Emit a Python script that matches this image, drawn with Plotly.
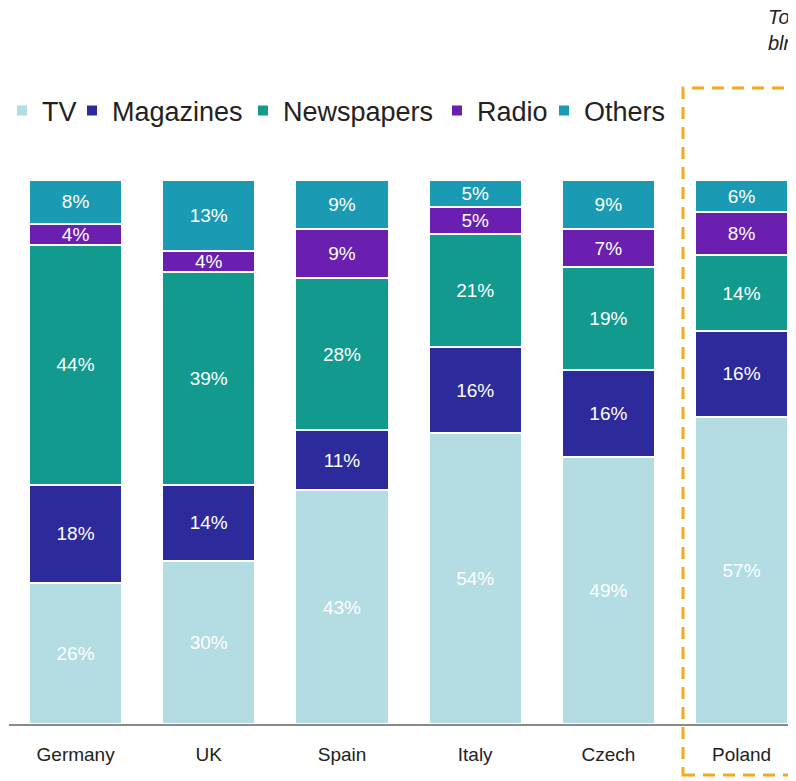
import plotly.graph_objects as go

countries = ["Germany", "UK", "Spain", "Italy", "Czech", "Poland"]
tv = [26, 30, 43, 54, 49, 57]
magazines = [18, 14, 11, 16, 16, 16]
newspapers = [44, 39, 28, 21, 19, 14]
radio = [4, 4, 9, 5, 7, 8]
others = [8, 13, 9, 5, 9, 6]

series = [
    ("TV", tv, "#b3dde3"),
    ("Magazines", magazines, "#2d2a9b"),
    ("Newspapers", newspapers, "#139a8f"),
    ("Radio", radio, "#6a1fb0"),
    ("Others", others, "#1a9bb3"),
]
legend_text_x = [42, 112, 283, 477, 584]  # screen px where each legend label starts

OFF = 8  # page body margin
W, H = 796 - OFF, 781 - OFF
L, R, T, B = 9 - OFF, 0, 180 - OFF, 781 - 724
pw = W - L - R
ph = H - T - B
band = 133.2

def px_x(p):
    return (p - OFF - L) / pw

def px_y(p):
    return (H - B - (p - OFF)) / ph

fig = go.Figure()
legends = {}
for i, (name, vals, col) in enumerate(series):
    lname = "legend" if i == 0 else f"legend{i + 1}"
    fig.add_trace(go.Bar(
        name=name, x=countries, y=vals, legend=lname,
        marker=dict(color=col, line=dict(color="white", width=2)),
        text=[f"{v}%" for v in vals], textposition="inside",
        insidetextanchor="middle", textangle=0,
        textfont=dict(color="white", size=19, family="Liberation Sans, Arial"),
    ))
    legends[lname] = dict(
        orientation="h", xref="paper", yref="paper",
        x=px_x(legend_text_x[i] - 40), xanchor="left",
        y=px_y(111), yanchor="middle",
        font=dict(size=27, color="#222"), itemclick=False,
        bgcolor="rgba(0,0,0,0)", borderwidth=0,
    )

fig.update_layout(
    width=W, height=H,
    margin=dict(l=L, r=R, t=T, b=B, autoexpand=False),
    barmode="stack", barnorm="percent", bargap=0.3,
    plot_bgcolor="white", paper_bgcolor="white",
    font=dict(family="Liberation Sans, Arial", color="#222"),
    uniformtext=dict(minsize=19, mode="show"),
    showlegend=True,
    xaxis=dict(range=[-0.5, -0.5 + pw / band], showgrid=False,
               showline=True, linecolor="#8a8a8a", linewidth=1.5,
               ticks="", tickfont=dict(size=19, color="#222"),
               ticklabelstandoff=12, zeroline=False, fixedrange=True),
    yaxis=dict(range=[0, 100], visible=False, fixedrange=True),
    shapes=[dict(type="rect", xref="paper", yref="paper",
                 x0=px_x(683), x1=px_x(830), y0=px_y(775), y1=px_y(88),
                 line=dict(color="#f5aa1c", width=3, dash="12px,8px"))],
    annotations=[dict(xref="paper", yref="paper", x=px_x(766), y=px_y(4),
                      xanchor="left", yanchor="top", align="left",
                      showarrow=False, text="<i>Tot<br>bln</i>",
                      font=dict(size=20, color="#222"))],
)
fig.update_layout(**legends)

fig.write_html("out.html")
